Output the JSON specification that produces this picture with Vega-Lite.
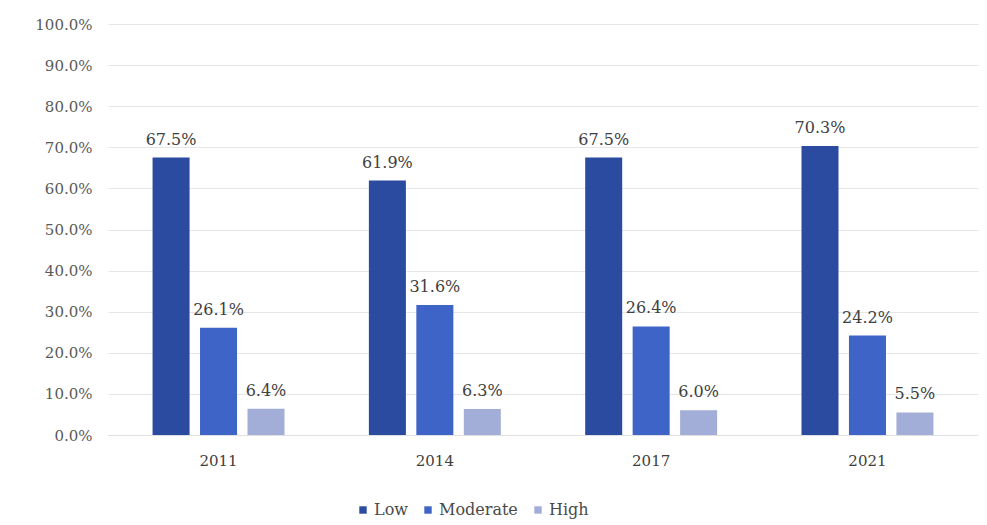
{
  "$schema": "https://vega.github.io/schema/vega-lite/v6.json",
  "width": 870,
  "height": 411,
  "autosize": {"type": "none"},
  "padding": {"left": 108, "top": 24, "right": 9, "bottom": 90},
  "background": "white",
  "config": {
    "view": {"stroke": null},
    "font": "DejaVu Serif"
  },
  "data": {
    "values": [
      {"year": "2011", "level": "Low", "value": 0.675},
      {"year": "2011", "level": "Moderate", "value": 0.261},
      {"year": "2011", "level": "High", "value": 0.064},
      {"year": "2014", "level": "Low", "value": 0.619},
      {"year": "2014", "level": "Moderate", "value": 0.316},
      {"year": "2014", "level": "High", "value": 0.063},
      {"year": "2017", "level": "Low", "value": 0.675},
      {"year": "2017", "level": "Moderate", "value": 0.264},
      {"year": "2017", "level": "High", "value": 0.060},
      {"year": "2021", "level": "Low", "value": 0.703},
      {"year": "2021", "level": "Moderate", "value": 0.242},
      {"year": "2021", "level": "High", "value": 0.055}
    ]
  },
  "encoding": {
    "x": {
      "field": "year",
      "type": "nominal",
      "title": null,
      "scale": {"paddingInner": 0.39, "paddingOuter": 0.206},
      "axis": {
        "labelAngle": 0,
        "ticks": false,
        "domain": true,
        "domainColor": "#e0e0e0",
        "labelPadding": 18,
        "labelFontSize": 15,
        "labelColor": "#404040",
        "grid": false
      }
    },
    "xOffset": {
      "field": "level",
      "type": "nominal",
      "sort": ["Low", "Moderate", "High"],
      "scale": {"paddingInner": 0.22, "paddingOuter": 0}
    },
    "y": {
      "field": "value",
      "type": "quantitative",
      "title": null,
      "scale": {"domain": [0, 1], "nice": false},
      "axis": {
        "values": [0, 0.1, 0.2, 0.3, 0.4, 0.5, 0.6, 0.7, 0.8, 0.9, 1.0],
        "format": ".1%",
        "ticks": false,
        "domain": false,
        "labelPadding": 16,
        "labelFontSize": 15,
        "labelColor": "#595959",
        "gridColor": "#e6e6e6"
      }
    }
  },
  "layer": [
    {
      "mark": {"type": "bar"},
      "encoding": {
        "color": {
          "field": "level",
          "type": "nominal",
          "sort": ["Low", "Moderate", "High"],
          "scale": {
            "domain": ["Low", "Moderate", "High"],
            "range": ["#2b4ba0", "#3d64c6", "#a3aed8"]
          },
          "legend": {
            "title": null,
            "orient": "none",
            "direction": "horizontal",
            "legendX": 247,
            "legendY": 478,
            "symbolType": "square",
            "symbolSize": 55,
            "labelFontSize": 16,
            "labelColor": "#4a4a4a",
            "labelOffset": 3,
            "columnPadding": 12
          }
        }
      }
    },
    {
      "mark": {"type": "text", "baseline": "alphabetic", "dy": -13, "fontSize": 16, "color": "#404040"},
      "encoding": {
        "text": {"field": "value", "type": "quantitative", "format": ".1%"}
      }
    }
  ]
}
